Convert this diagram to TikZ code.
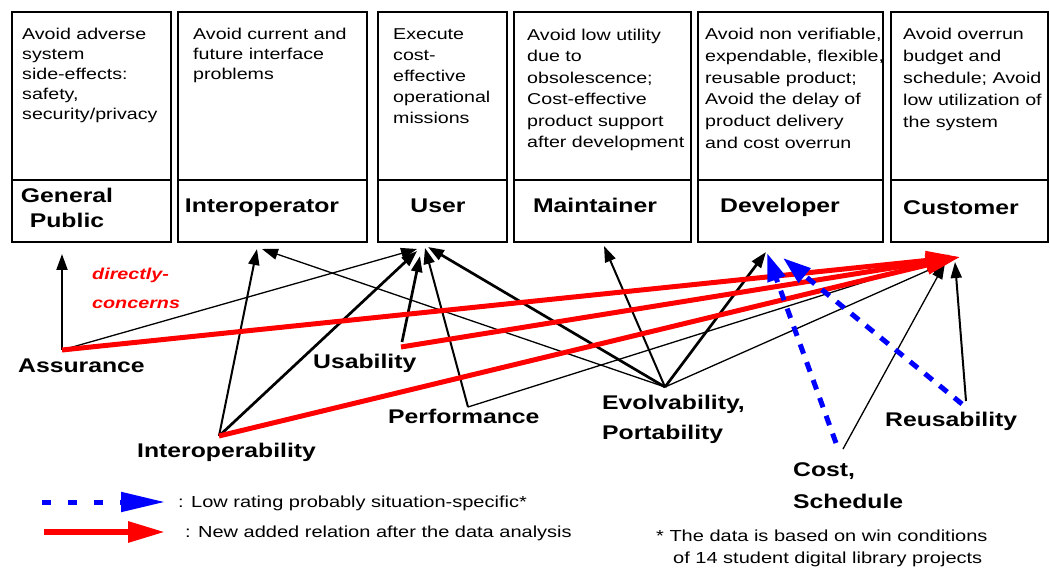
\documentclass[tikz,border=0pt]{standalone}
\usepackage{fontspec}
\setmainfont{Liberation Sans}[FakeStretch=1.25]
\usetikzlibrary{arrows.meta}

\tikzset{
  rolebox/.style={draw, line width=2.5pt},
  goal/.style={anchor=north west, align=left, inner sep=0pt,
    font=\fontsize{15.7}{21}\selectfont},
  role/.style={anchor=base, inner sep=0pt,
    font=\fontsize{19.8}{25}\selectfont\bfseries},
  attr/.style={inner sep=0pt, align=left,
    font=\fontsize{19.8}{30}\selectfont\bfseries},
  note/.style={inner sep=0pt, anchor=base west,
    font=\fontsize{16}{22}\selectfont},
  rel/.style={line width=1.3pt, -{Triangle[length=16pt,width=11pt]}},
  relmid/.style={rel, line width=2pt},
  relthick/.style={rel, line width=2.7pt},
  newrel/.style={red, line width=5pt, -{Triangle[length=34pt,width=18pt]}},
  lowrel/.style={blue, line width=5pt, dash pattern=on 10pt off 9pt,
    -{Triangle[length=28pt,width=18pt]}},
}

\begin{document}
\begin{tikzpicture}[x=1pt, y=-1pt]
\useasboundingbox (0,0) rectangle (1050,569);

% stakeholder boxes: goal part above, role name below
\foreach \l/\r in {12/171, 178/367, 378/507, 514/691, 698/883, 891/1048} {
  \draw[rolebox] (\l,12) rectangle (\r,242);
  \draw[rolebox] (\l,180) -- (\r,180);
}

% win conditions
\node[goal, font=\fontsize{15.7}{20}\selectfont] (g-gp) at (22,28)
  {Avoid adverse\\system\\side-effects:\\safety,\\security/privacy};
\node[goal, font=\fontsize{15.7}{20}\selectfont] (g-io) at (193,28)
  {Avoid current and\\future interface\\problems};
\node[goal] (g-user) at (393,29)
  {Execute\\cost-\\effective\\operational\\missions};
\node[goal, font=\fontsize{15.7}{21.4}\selectfont] (g-mt) at (527,29)
  {Avoid low utility\\due to\\obsolescence;\\Cost-effective\\product support\\after development};
\node[goal, font=\fontsize{15.7}{21.8}\selectfont] (g-dev) at (705,28)
  {Avoid non verifiable,\\expendable, flexible,\\reusable product;\\Avoid the delay of\\product delivery\\and cost overrun};
\node[goal, font=\fontsize{15.7}{22}\selectfont] (g-cust) at (903,28)
  {Avoid overrun\\budget and\\schedule; Avoid\\low utilization of\\the system};

% role names
\node[role, anchor=north, align=center] (r-gp) at (67,188) {General\\Public};
\node[role] (r-io) at (262,213) {Interoperator};
\node[role] (r-user) at (438,213) {User};
\node[role] (r-mt) at (595,213) {Maintainer};
\node[role] (r-dev) at (780,213) {Developer};
\node[role] (r-cust) at (961,215) {Customer};

% quality attributes
\node[attr, anchor=base west] (a-assur) at (18,373) {Assurance};
\node[attr, anchor=base west] (a-usab) at (313,369) {Usability};
\node[attr, anchor=base west] (a-inter) at (137,457) {Interoperability};
\node[attr, anchor=base west] (a-perf) at (388,423) {Performance};
\node[attr, anchor=north west] (a-evol) at (602,395) {Evolvability,\\Portability};
\node[attr, anchor=north west, font=\fontsize{19.8}{32}\selectfont\bfseries]
  (a-cost) at (793,462) {Cost,\\Schedule};
\node[attr, anchor=base west] (a-reuse) at (885,426) {Reusability};
\node[anchor=north west, inner sep=0pt, align=left, text=red,
  font=\fontsize{15.8}{29}\selectfont\bfseries\itshape]
  (concern) at (92,268) {directly-\\concerns};

% connector ends at the attributes
\coordinate (assur) at (62,350);
\coordinate (usab) at (401,347);
\coordinate (usab-k) at (402,342);
\coordinate (inter) at (219,436);
\coordinate (perf) at (468,407);
\coordinate (evol) at (665,387);
\coordinate (cost) at (843,449);
\coordinate (cost-b) at (836,443);
\coordinate (reuse) at (966,401);
\coordinate (reuse-b) at (962,404);

% connector ends at the roles
\coordinate (gp-in) at (62,254);
\coordinate (io-in) at (257,249);
\coordinate (io-in2) at (262,249);
\coordinate (user-a) at (417,249);
\coordinate (user-i) at (417,251);
\coordinate (user-u) at (420,256);
\coordinate (user-p) at (425,248);
\coordinate (user-e) at (428,247);
\coordinate (mt-in) at (604,246);
\coordinate (dev-in) at (766,252);
\coordinate (dev-b1) at (767,253);
\coordinate (dev-b2) at (783,258);
\coordinate (cust-in) at (960,257);
\coordinate (cust-p) at (950,255);
\coordinate (cust-e) at (947,262);
\coordinate (cust-c) at (945,263);
\coordinate (cust-r) at (955,262);

% relations
\draw[relmid] (assur) -- (gp-in);
\draw[rel] (assur) -- (user-a);
\draw[relmid] (inter) -- (io-in);
\draw[relthick] (inter) -- (user-i);
\draw[relthick] (usab-k) -- (user-u);
\draw[relmid] (perf) -- (user-p);
\draw[rel] (perf) -- (cust-p);
\draw[relthick] (evol) -- (user-e);
\draw[rel] (evol) -- (io-in2);
\draw[relmid] (evol) -- (mt-in);
\draw[relthick] (evol) -- (dev-in);
\draw[rel] (evol) -- (cust-e);
\draw[rel] (cost) -- (cust-c);
\draw[relmid] (reuse) -- (cust-r);

% relations added after the data analysis
\draw[newrel] (assur) -- (cust-in);
\draw[newrel] (usab) -- (cust-in);
\draw[newrel] (inter) -- (cust-in);

% low-rated relations
\draw[lowrel] (cost-b) -- (dev-b1);
\draw[lowrel] (reuse-b) -- (dev-b2);

% legend
\coordinate (lg-b0) at (42,502);
\coordinate (lg-b1) at (165,502);
\coordinate (lg-r0) at (44,532);
\coordinate (lg-r1) at (165,532);
\draw[blue, line width=5pt, dash pattern=on 9pt off 17pt,
  -{Triangle[length=44pt,width=19pt]}] (lg-b0) -- (lg-b1);
\draw[red, line width=6pt, -{Triangle[length=37pt,width=20pt]}] (lg-r0) -- (lg-r1);
\node[note] (lg-low) at (178,507) {: Low rating probably situation-specific*};
\node[note] (lg-new) at (185,537) {: New added relation after the data analysis};
\node[note, anchor=north west, align=left] (data-note) at (656,530)
  {* The data is based on win conditions\\\hspace*{17pt}of 14 student digital library projects};
\end{tikzpicture}
\end{document}
